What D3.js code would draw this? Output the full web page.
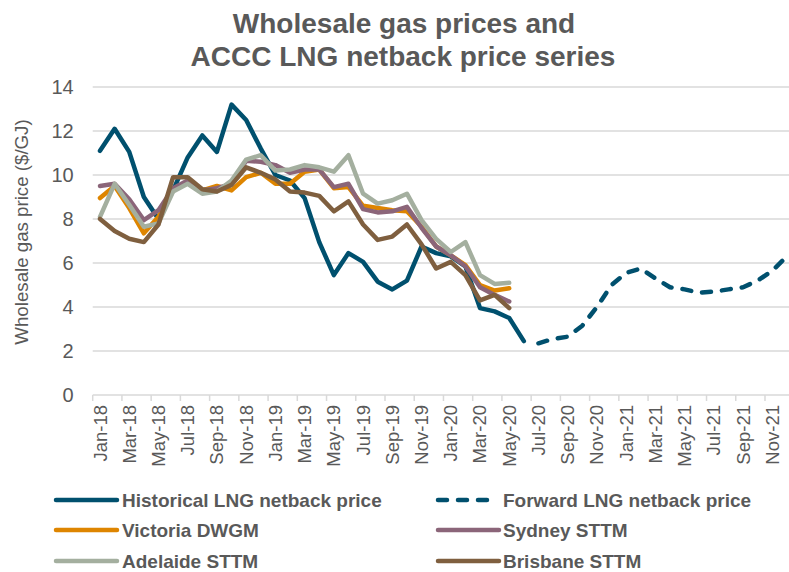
<!DOCTYPE html>
<html>
<head>
<meta charset="utf-8">
<script src="https://cdn.jsdelivr.net/npm/d3@7"></script>
<style>
  body { margin: 0; background: #fff; }
  svg { display: block; font-family: "Liberation Sans", Arial, sans-serif; }
</style>
</head>
<body>
<svg id="chart" width="789" height="572"></svg>
<script>
// categories: one per month, Jan-18 .. Dec-21
const months = [
  'Jan-18','Feb-18','Mar-18','Apr-18','May-18','Jun-18','Jul-18','Aug-18','Sep-18','Oct-18','Nov-18','Dec-18',
  'Jan-19','Feb-19','Mar-19','Apr-19','May-19','Jun-19','Jul-19','Aug-19','Sep-19','Oct-19','Nov-19','Dec-19',
  'Jan-20','Feb-20','Mar-20','Apr-20','May-20','Jun-20','Jul-20','Aug-20','Sep-20','Oct-20','Nov-20','Dec-20',
  'Jan-21','Feb-21','Mar-21','Apr-21','May-21','Jun-21','Jul-21','Aug-21','Sep-21','Oct-21','Nov-21','Dec-21'
];
const yTicks = [0, 2, 4, 6, 8, 10, 12, 14];

// Jan-18 .. Jun-20
const historical = [11.1, 12.1, 11.05, 9.0, 8.0, 9.3, 10.8, 11.8, 11.05, 13.2, 12.5, 11.2,
  10.0, 9.75, 8.95, 6.95, 5.45, 6.45, 6.05, 5.15, 4.8, 5.2, 6.75, 6.45,
  6.3, 5.85, 3.95, 3.8, 3.5, 2.45];
// Jul-20 .. Dec-21
const forward = [2.35, 2.55, 2.65, 3.15, 4.0, 5.0, 5.55, 5.75, 5.3, 4.9, 4.8, 4.65,
  4.7, 4.8, 4.9, 5.2, 5.65, 6.3];
// Jan-18 .. May-20
const victoria = [8.95, 9.5, 8.5, 7.35, 8.1, 9.3, 9.7, 9.3, 9.5, 9.3, 9.9, 10.1,
  9.6, 9.6, 10.15, 10.25, 9.4, 9.45, 8.6, 8.5, 8.4, 8.35, 7.65, 6.75,
  6.35, 5.9, 5.0, 4.75, 4.85];
const sydney = [9.5, 9.6, 8.9, 7.95, 8.4, 9.4, 9.75, 9.3, 9.4, 9.6, 10.65, 10.6,
  10.45, 10.1, 10.25, 10.25, 9.45, 9.6, 8.45, 8.3, 8.35, 8.55, 7.6, 6.75,
  6.35, 5.85, 4.9, 4.55, 4.25];
const adelaide = [8.1, 9.6, 8.65, 7.65, 7.8, 9.25, 9.6, 9.15, 9.25, 9.75, 10.7, 10.9,
  10.2, 10.25, 10.45, 10.35, 10.15, 10.9, 9.15, 8.7, 8.85, 9.15, 7.95, 7.1,
  6.5, 6.95, 5.45, 5.05, 5.1];
const brisbane = [8.0, 7.45, 7.1, 6.95, 7.75, 9.9, 9.9, 9.35, 9.25, 9.55, 10.35, 10.1,
  9.8, 9.25, 9.2, 9.05, 8.35, 8.8, 7.75, 7.05, 7.2, 7.75, 6.85, 5.75,
  6.05, 5.45, 4.3, 4.55, 3.95];

const series = [
  { name: 'Historical LNG netback price', values: historical, start: 0, color: '#00506E' },
  { name: 'Forward LNG netback price', values: forward, start: 30, color: '#00506E', dash: true },
  { name: 'Victoria DWGM', values: victoria, start: 0, color: '#DE8500' },
  { name: 'Sydney STTM', values: sydney, start: 0, color: '#8B6579' },
  { name: 'Adelaide STTM', values: adelaide, start: 0, color: '#A4AF9F' },
  { name: 'Brisbane STTM', values: brisbane, start: 0, color: '#7F5F3F' }
];

const textColor = '#595959';
const svg = d3.select('#chart');

const plotLeft = 92.7, plotTop = 87, plotBottom = 395;
const step = 14.615;

const x = d3.scaleBand().domain(months).range([plotLeft, plotLeft + months.length * step]).padding(0);
const y = d3.scaleLinear().domain([0, 14]).range([plotBottom, plotTop]);
const cx = (m) => x(m) + x.bandwidth() / 2;

// title
svg.append('text')
  .attr('x', 404).attr('y', 33)
  .attr('text-anchor', 'middle')
  .attr('font-size', 28).attr('font-weight', 'bold').attr('fill', textColor)
  .text('Wholesale gas prices and');
svg.append('text')
  .attr('x', 403).attr('y', 66)
  .attr('text-anchor', 'middle')
  .attr('font-size', 28).attr('font-weight', 'bold').attr('fill', textColor)
  .text('ACCC LNG netback price series');

// gridlines
svg.append('g')
  .selectAll('line')
  .data(yTicks.filter(t => t > 0))
  .enter()
    .append('line')
    .attr('x1', plotLeft).attr('x2', 789)
    .attr('y1', d => y(d)).attr('y2', d => y(d))
    .attr('stroke', '#D9D9D9').attr('stroke-width', 1.5);

// y axis labels
const yAxis = svg.append('g')
  .attr('transform', `translate(${plotLeft},0)`)
  .call(d3.axisLeft(y).tickValues(yTicks).tickSize(0).tickPadding(19));
yAxis.select('.domain').remove();
yAxis.selectAll('text')
  .attr('font-size', 20).attr('fill', textColor)
  .attr('font-family', '"Liberation Sans", Arial, sans-serif');

svg.append('text')
  .attr('transform', 'translate(28,232) rotate(-90)')
  .attr('text-anchor', 'middle')
  .attr('font-size', 18.7).attr('fill', textColor)
  .text('Wholesale gas price ($/GJ)');

// x axis: ticks on category boundaries every two months
const xAxisG = svg.append('g');
xAxisG.append('line')
  .attr('x1', plotLeft).attr('x2', 789)
  .attr('y1', plotBottom).attr('y2', plotBottom)
  .attr('stroke', '#D9D9D9').attr('stroke-width', 1.5);
xAxisG.selectAll('.tick')
  .data(months.filter((m, i) => i % 2 === 0))
  .enter()
    .append('line')
    .attr('x1', d => x(d)).attr('x2', d => x(d))
    .attr('y1', plotBottom).attr('y2', plotBottom + 6)
    .attr('stroke', '#D9D9D9').attr('stroke-width', 1.5);
xAxisG.selectAll('.lbl')
  .data(months.filter((m, i) => i % 2 === 0))
  .enter()
    .append('text')
    .attr('transform', d => `translate(${cx(d) + 6.5},405) rotate(-90)`)
    .attr('text-anchor', 'end')
    .attr('font-size', 18.5).attr('fill', textColor)
    .text(d => d);

// series
const line = d3.line()
  .x(d => cx(d.m))
  .y(d => y(d.v));

series.forEach((s) => {
  const pts = s.values.map((v, i) => ({ m: months[s.start + i], v: v }));
  svg.append('path')
    .datum(pts)
    .attr('d', line)
    .attr('fill', 'none')
    .attr('stroke', s.color)
    .attr('stroke-width', 4.5)
    .attr('stroke-linejoin', 'round')
    .attr('stroke-linecap', 'round')
    .attr('stroke-dasharray', s.dash ? '9,11' : null);
});

// legend
const legendCols = [54, 436];
const legendRows = [500, 530, 561];
const legend = svg.append('g')
  .selectAll('g')
  .data(series)
  .enter()
    .append('g')
    .attr('transform', (d, i) => `translate(${legendCols[i % 2]},${legendRows[Math.floor(i / 2)]})`);

legend.append('line')
  .attr('x1', 2).attr('x2', d => d.dash ? 58 : 63)
  .attr('y1', 0).attr('y2', 0)
  .attr('stroke', d => d.color)
  .attr('stroke-width', 4.5)
  .attr('stroke-linecap', 'round')
  .attr('stroke-dasharray', d => d.dash ? '9,11' : null);

legend.append('text')
  .attr('x', (d, i) => i % 2 ? 67 : 68)
  .attr('y', 7)
  .attr('font-size', 19).attr('font-weight', 'bold').attr('fill', textColor)
  .text(d => d.name);
</script>
</body>
</html>
